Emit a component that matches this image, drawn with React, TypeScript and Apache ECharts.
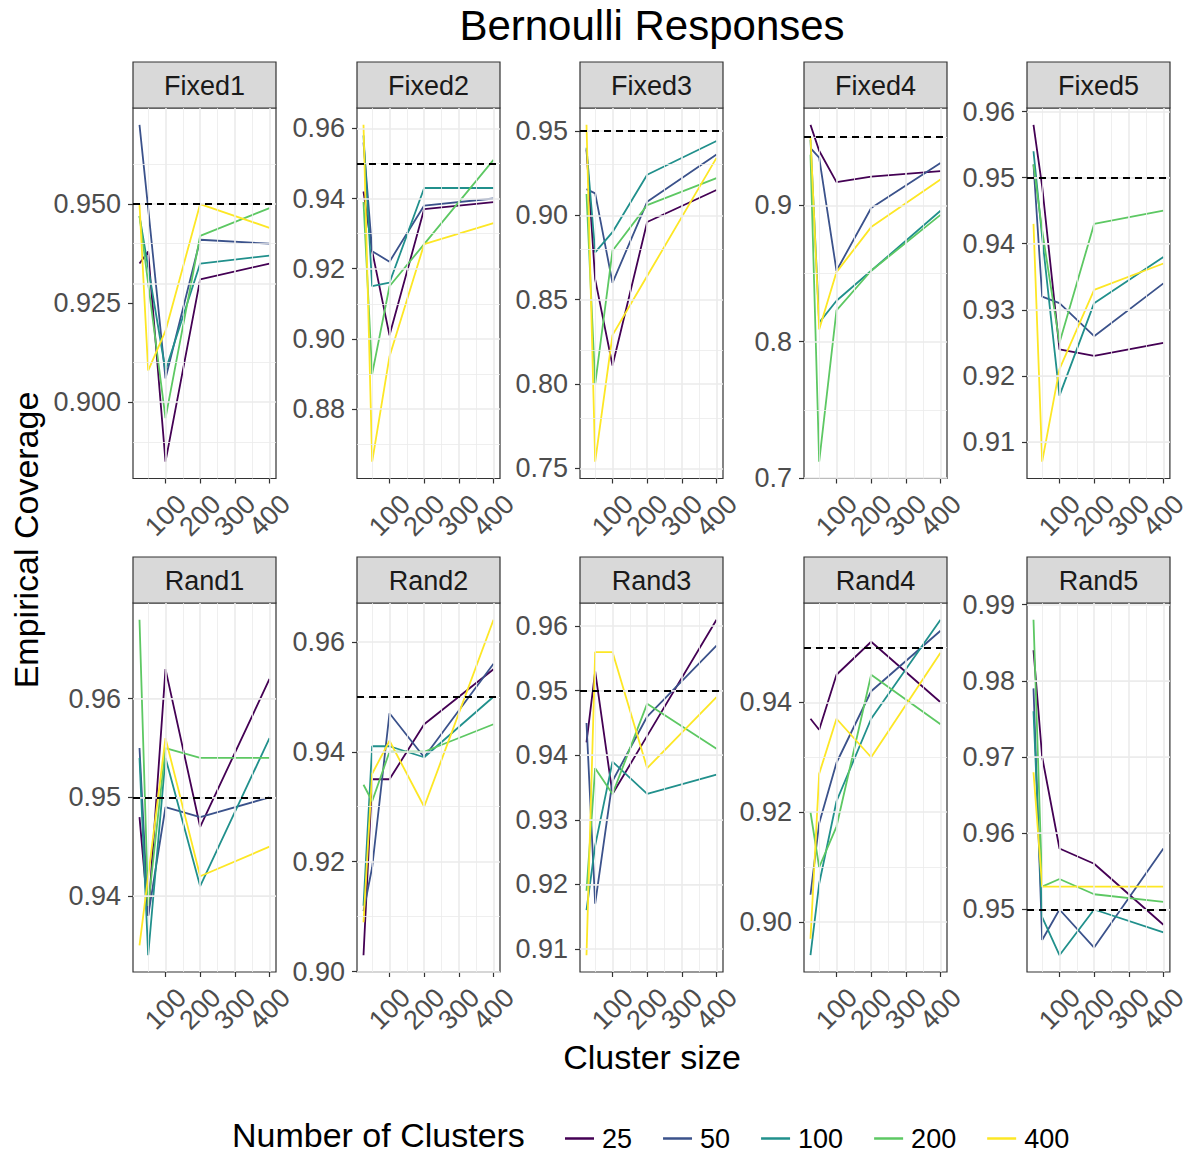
import React, { useEffect, useRef } from "react";
import * as echarts from "echarts";

const clusterSizes = [25, 50, 100, 200, 400];
const numClusters = ["25", "50", "100", "200", "400"];
const colors = ["#440154", "#3B528B", "#21908C", "#5DC863", "#FDE725"];
const panelNames = ["Fixed1", "Fixed2", "Fixed3", "Fixed4", "Fixed5", "Rand1", "Rand2", "Rand3", "Rand4", "Rand5"];

// rows: number of clusters 25, 50, 100, 200, 400 ; columns: cluster size 25..400
const fixed1 = [
  [0.935, 0.938, 0.885, 0.931, 0.935],
  [0.970, 0.949, 0.906, 0.941, 0.940],
  [0.947, 0.934, 0.908, 0.935, 0.937],
  [0.947, 0.930, 0.896, 0.942, 0.949],
  [0.950, 0.908, 0.918, 0.950, 0.944],
];
const fixed2 = [
  [0.942, 0.925, 0.901, 0.937, 0.939],
  [0.956, 0.925, 0.922, 0.938, 0.940],
  [0.958, 0.915, 0.916, 0.943, 0.943],
  [0.939, 0.890, 0.915, 0.927, 0.951],
  [0.961, 0.865, 0.895, 0.927, 0.933],
];
const fixed3 = [
  [0.939, 0.862, 0.811, 0.896, 0.915],
  [0.9155, 0.913, 0.860, 0.908, 0.936],
  [0.940, 0.878, 0.890, 0.924, 0.944],
  [0.9126, 0.800, 0.879, 0.906, 0.922],
  [0.9536, 0.754, 0.829, 0.864, 0.934],
];
const fixed4 = [
  [0.959, 0.940, 0.917, 0.921, 0.925],
  [0.942, 0.935, 0.852, 0.898, 0.931],
  [0.948, 0.814, 0.830, 0.852, 0.896],
  [0.937, 0.712, 0.823, 0.852, 0.893],
  [0.950, 0.809, 0.851, 0.884, 0.919],
];
const fixed5 = [
  [0.958, 0.9487, 0.924, 0.923, 0.925],
  [0.952, 0.932, 0.931, 0.926, 0.934],
  [0.954, 0.941, 0.917, 0.931, 0.938],
  [0.952, 0.942, 0.925, 0.943, 0.945],
  [0.943, 0.907, 0.921, 0.933, 0.937],
];
const rand1 = [
  [0.948, 0.938, 0.963, 0.947, 0.962],
  [0.955, 0.938, 0.949, 0.948, 0.950],
  [0.954, 0.934, 0.954, 0.941, 0.956],
  [0.968, 0.939, 0.955, 0.954, 0.954],
  [0.935, 0.942, 0.956, 0.942, 0.945],
];
const rand2 = [
  [0.903, 0.935, 0.935, 0.945, 0.955],
  [0.911, 0.919, 0.947, 0.939, 0.956],
  [0.912, 0.941, 0.941, 0.939, 0.950],
  [0.934, 0.931, 0.940, 0.940, 0.945],
  [0.909, 0.936, 0.942, 0.930, 0.964],
];
const rand3 = [
  [0.942, 0.953, 0.934, 0.943, 0.961],
  [0.945, 0.917, 0.936, 0.946, 0.957],
  [0.916, 0.926, 0.939, 0.934, 0.937],
  [0.919, 0.938, 0.934, 0.948, 0.941],
  [0.909, 0.956, 0.956, 0.938, 0.949],
];
const rand4 = [
  [0.937, 0.935, 0.945, 0.951, 0.940],
  [0.905, 0.918, 0.929, 0.942, 0.953],
  [0.894, 0.907, 0.922, 0.937, 0.955],
  [0.920, 0.910, 0.9174, 0.945, 0.936],
  [0.897, 0.927, 0.937, 0.930, 0.949],
];
const rand5 = [
  [0.984, 0.970, 0.958, 0.956, 0.948],
  [0.979, 0.946, 0.950, 0.945, 0.958],
  [0.976, 0.949, 0.944, 0.950, 0.947],
  [0.988, 0.953, 0.954, 0.952, 0.951],
  [0.968, 0.953, 0.953, 0.953, 0.953],
];
const panelData = [fixed1, fixed2, fixed3, fixed4, fixed5, rand1, rand2, rand3, rand4, rand5];

const yTicks = [
  [0.9, 0.925, 0.95],
  [0.88, 0.9, 0.92, 0.94, 0.96],
  [0.75, 0.8, 0.85, 0.9, 0.95],
  [0.7, 0.8, 0.9],
  [0.91, 0.92, 0.93, 0.94, 0.95, 0.96],
  [0.94, 0.95, 0.96],
  [0.9, 0.92, 0.94, 0.96],
  [0.91, 0.92, 0.93, 0.94, 0.95, 0.96],
  [0.9, 0.92, 0.94],
  [0.95, 0.96, 0.97, 0.98, 0.99],
];
const yDecimals = [3, 2, 2, 1, 2, 2, 2, 2, 2, 2];
const xTicks = [100, 200, 300, 400];
const nominal = 0.95;

const FONT = "Liberation Sans, Arial, Helvetica, sans-serif";
const colLefts = [133, 357, 580, 804, 1027];
const panelW = 143;
const rowTops = [108, 603];
const rowHeights = [370.5, 369];
const stripH = 46;

function expandRange(vals: number[]) {
  const lo = Math.min(...vals);
  const hi = Math.max(...vals);
  const pad = (hi - lo) * 0.05;
  return [lo - pad, hi + pad];
}

function minorsOf(ticks: number[], lo: number, hi: number) {
  const step = ticks[1] - ticks[0];
  const out: number[] = [];
  for (let v = ticks[0] - step / 2; v <= hi + 1e-9; v += step) {
    if (v >= lo - 1e-9) out.push(+v.toFixed(6));
  }
  return out;
}

function buildOption() {
  const grids: any[] = [];
  const xAxes: any[] = [];
  const yAxes: any[] = [];
  const series: any[] = [];
  const graphics: any[] = [];
  const [xLo, xHi] = expandRange(clusterSizes);
  const xMinors = minorsOf(xTicks, xLo, xHi);
  const xLabelsA = xTicks.filter((_, k) => k % 2 === 0);
  const xLabelsB = xTicks.filter((_, k) => k % 2 === 1);

  const xLabelStyle = {
    rotate: 45, fontSize: 27, color: "#4D4D4D", fontFamily: FONT, margin: 37,
    align: "center", verticalAlign: "middle",
    showMinLabel: true, showMaxLabel: true, hideOverlap: false,
    formatter: (v: number) => String(Math.round(v)),
  };

  panelData.forEach((rows, i) => {
    const r = Math.floor(i / 5);
    const c = i % 5;
    const left = colLefts[c];
    const top = rowTops[r];
    const height = rowHeights[r];
    const all = rows.flat().concat([nominal]);
    const [yLo, yHi] = expandRange(all);
    const ticks = yTicks[i];
    const dec = yDecimals[i];

    grids.push({
      left, top, width: panelW, height,
      show: true, borderColor: "#333333", borderWidth: 1.2, backgroundColor: "#FFFFFF",
    });
    // main x axis: ticks + labels 100, 300
    xAxes.push({
      gridIndex: i, type: "value", min: xLo, max: xHi, position: "bottom",
      axisLine: { show: false },
      splitLine: { show: false },
      axisTick: { show: true, customValues: xTicks, length: 5, lineStyle: { color: "#333333", width: 1.2 } },
      axisLabel: { ...xLabelStyle, customValues: xLabelsA },
    });
    // companion x axis: labels 200, 400 (same scale, same place)
    xAxes.push({
      gridIndex: i, type: "value", min: xLo, max: xHi, position: "bottom", offset: 0,
      axisLine: { show: false },
      splitLine: { show: false },
      axisTick: { show: false },
      axisLabel: { ...xLabelStyle, customValues: xLabelsB },
    });
    yAxes.push({
      gridIndex: i, type: "value", min: yLo, max: yHi,
      axisLine: { show: false },
      splitLine: { show: false },
      axisTick: { show: true, customValues: ticks, length: 5, lineStyle: { color: "#333333", width: 1.2 } },
      axisLabel: {
        customValues: ticks, fontSize: 27, color: "#4D4D4D", fontFamily: FONT, margin: 12,
        showMinLabel: true, showMaxLabel: true,
        formatter: (v: number) => v.toFixed(dec),
      },
    });

    const xi = 2 * i;
    const gridLines: any[] = [];
    minorsOf(ticks, yLo, yHi).forEach((v) =>
      gridLines.push({ yAxis: v, lineStyle: { color: "#EBEBEB", width: 0.8, type: "solid" } })
    );
    xMinors.forEach((v) =>
      gridLines.push({ xAxis: v, lineStyle: { color: "#EBEBEB", width: 0.8, type: "solid" } })
    );
    ticks.filter((v) => v >= yLo && v <= yHi).forEach((v) =>
      gridLines.push({ yAxis: v, lineStyle: { color: "#EBEBEB", width: 1.6, type: "solid" } })
    );
    xTicks.forEach((v) =>
      gridLines.push({ xAxis: v, lineStyle: { color: "#EBEBEB", width: 1.6, type: "solid" } })
    );
    series.push({
      type: "line", name: "grid" + i, xAxisIndex: xi, yAxisIndex: i,
      data: [[clusterSizes[0], nominal]], showSymbol: false, symbol: "none",
      lineStyle: { width: 0, opacity: 0 }, silent: true, z: 1,
      markLine: { silent: true, symbol: ["none", "none"], label: { show: false }, data: gridLines },
    });

    rows.forEach((vals, s) => {
      series.push({
        type: "line", name: numClusters[s], xAxisIndex: xi, yAxisIndex: i,
        data: clusterSizes.map((x, k) => [x, vals[k]]),
        showSymbol: false, symbol: "none",
        lineStyle: { width: 1.8, color: colors[s] },
        itemStyle: { color: colors[s] },
        z: 2,
      });
    });

    series.push({
      type: "line", name: "ref" + i, xAxisIndex: xi, yAxisIndex: i,
      data: [[clusterSizes[0], nominal]], showSymbol: false, symbol: "none",
      lineStyle: { width: 0, opacity: 0 }, silent: true, z: 3,
      markLine: {
        silent: true, symbol: ["none", "none"], label: { show: false },
        data: [{ yAxis: nominal, lineStyle: { color: "#000000", width: 1.9, type: [7, 5] } }],
      },
    });

    graphics.push({
      type: "rect",
      shape: { x: left, y: top - stripH, width: panelW, height: stripH },
      style: { fill: "#D9D9D9", stroke: "#333333", lineWidth: 1.2 },
    });
    graphics.push({
      type: "text", x: left + panelW / 2, y: top - stripH / 2 + 1,
      style: { text: panelNames[i], fontSize: 27, fontFamily: FONT, fill: "#1A1A1A", align: "center", verticalAlign: "middle" },
    });
  });

  graphics.push({
    type: "text", x: 652, y: 25,
    style: { text: "Bernoulli Responses", fontSize: 42, fontFamily: FONT, fill: "#000000", align: "center", verticalAlign: "middle" },
  });
  graphics.push({
    type: "text", x: 652, y: 1057,
    style: { text: "Cluster size", fontSize: 34, fontFamily: FONT, fill: "#000000", align: "center", verticalAlign: "middle" },
  });
  graphics.push({
    type: "text", x: 26, y: 540, rotation: Math.PI / 2,
    style: { text: "Empirical Coverage", fontSize: 34, fontFamily: FONT, fill: "#000000", align: "center", verticalAlign: "middle" },
  });
  graphics.push({
    type: "text", x: 232, y: 1135,
    style: { text: "Number of Clusters", fontSize: 34, fontFamily: FONT, fill: "#000000", align: "left", verticalAlign: "middle" },
  });

  return {
    animation: false,
    backgroundColor: "#FFFFFF",
    grid: grids,
    xAxis: xAxes,
    yAxis: yAxes,
    series,
    graphic: graphics,
    legend: {
      data: numClusters.map((n) => ({ name: n, icon: "rect" })),
      left: 560, top: 1120,
      itemWidth: 29, itemHeight: 2.5, itemGap: 31,
      selectedMode: false,
      textStyle: { fontSize: 27, color: "#000000", fontFamily: FONT, padding: [0, 0, 0, 3] },
    },
  };
}

export default function App() {
  const ref = useRef<HTMLDivElement>(null);
  useEffect(() => {
    if (!ref.current) return;
    const chart = echarts.init(ref.current, null, { renderer: "svg" });
    chart.setOption(buildOption() as any);
    return () => chart.dispose();
  }, []);
  return (
    <div
      ref={ref}
      style={{ position: "fixed", left: 0, top: 0, width: 1191, height: 1153, background: "#FFFFFF" }}
    />
  );
}
